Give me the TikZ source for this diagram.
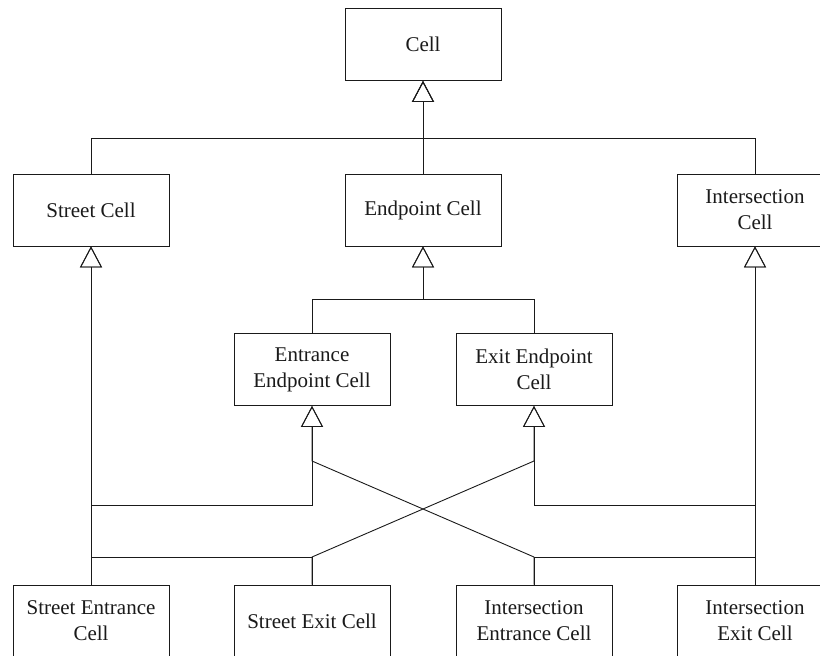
\documentclass[tikz,border=0pt]{standalone}
\usepackage{fontspec}
\setmainfont{Liberation Serif}
\usepackage{xcolor}
\usepackage{tikz}
\usetikzlibrary{arrows.meta}
\definecolor{ink}{HTML}{1A1A1A}
\tikzset{
  cls/.style={draw=ink, line width=0.9pt, fill=white, minimum width=156pt, minimum height=72pt,
    inner sep=0pt, align=center, text=ink, font=\fontsize{21}{26}\selectfont},
  gen/.style={draw=ink, line width=0.9pt, -{Triangle[open, length=21pt, width=22pt]}},
}

\begin{document}
\begin{tikzpicture}[x=1pt, y=-1pt]
  \useasboundingbox (0,0) rectangle (820,656);
  % classes
  \node[cls] (cell)  at (423,44.5) {Cell};
  \node[cls] (street) at (91,210) {Street Cell};
  \node[cls] (endp)  at (423,210) {Endpoint Cell};
  \node[cls] (inter) at (755,210) {Intersection\\Cell};
  \node[cls] (entr)  at (312,369.5) {Entrance\\Endpoint Cell};
  \node[cls] (exit)  at (534,369.5) {Exit Endpoint\\Cell};
  \node[cls] (sen)   at (91,621) {Street Entrance\\Cell};
  \node[cls] (sex)   at (312,621) {Street Exit Cell};
  \node[cls] (ien)   at (534,621) {Intersection\\Entrance Cell};
  \node[cls] (iex)   at (755,621) {Intersection\\Exit Cell};
  % bends
  \coordinate (j1) at (423,138);
  \coordinate (j2) at (423,299);
  \coordinate (a1) at (91,505);
  \coordinate (d1) at (755,505);
  \coordinate (b1) at (312,557);
  \coordinate (c1) at (534,557);
  \coordinate (b2) at (534,461);
  \coordinate (c2) at (312,461);
  % generalizations
  \draw[gen] (street.north) |- (j1) -- (cell.south);
  \draw[gen] (endp.north) -- (cell.south);
  \draw[gen] (inter.north) |- (j1) -- (cell.south);
  \draw[gen] (entr.north) |- (j2) -- (endp.south);
  \draw[gen] (exit.north) |- (j2) -- (endp.south);
  \draw[gen] (sen.north) -- (street.south);
  \draw[gen] (sen.north) -- (a1) -| (entr.south);
  \draw[gen] (sex.north) -- (b1) -| (street.south);
  \draw[gen] (sex.north) -- (b1) -- (b2) -- (exit.south);
  \draw[gen] (ien.north) -- (c1) -- (c2) -- (entr.south);
  \draw[gen] (ien.north) -- (c1) -| (inter.south);
  \draw[gen] (iex.north) -- (inter.south);
  \draw[gen] (iex.north) -- (d1) -| (exit.south);
\end{tikzpicture}
\end{document}
